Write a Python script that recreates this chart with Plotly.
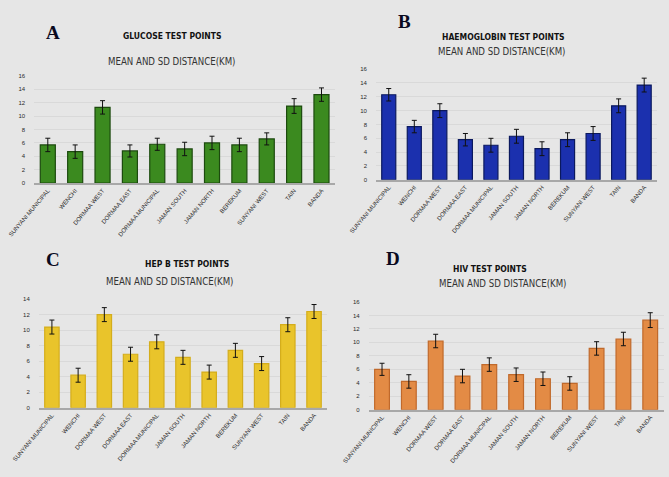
import plotly.graph_objects as go
from plotly.subplots import make_subplots

# districts (same order in all four panels)
districts = [
    "SUNYANI MUNICIPAL", "WENCHI", "DORMAA WEST", "DORMAA EAST",
    "DORMAA MUNICIPAL", "JAMAN SOUTH", "JAMAN NORTH", "BEREKUM",
    "SUNYANI WEST", "TAIN", "BANDA",
]

# mean distance (km) and SD
glucose_mean = [5.7, 4.7, 11.3, 4.8, 5.8, 5.1, 6.0, 5.7, 6.6, 11.5, 13.2]
glucose_sd = [1.0, 1.0, 1.0, 0.9, 0.9, 1.0, 1.0, 1.0, 0.9, 1.1, 1.0]

haemo_mean = [12.3, 7.7, 10.0, 5.8, 5.0, 6.3, 4.5, 5.8, 6.7, 10.7, 13.7]
haemo_sd = [0.9, 0.9, 1.0, 0.9, 1.0, 1.0, 1.0, 1.0, 1.0, 1.0, 1.0]

hepb_mean = [10.4, 4.2, 12.0, 6.9, 8.5, 6.5, 4.6, 7.4, 5.7, 10.7, 12.4]
hepb_sd = [0.9, 0.9, 0.9, 0.9, 0.9, 0.9, 0.9, 0.9, 0.9, 0.9, 0.9]

hiv_mean = [6.0, 4.2, 10.2, 5.0, 6.7, 5.2, 4.6, 3.9, 9.1, 10.5, 13.3]
hiv_sd = [0.9, 1.0, 1.0, 1.0, 1.0, 1.0, 1.0, 1.0, 1.0, 1.0, 1.1]

bg = "#e6e6e6"
narrow = "Liberation Sans Narrow, DejaVu Sans Condensed, Liberation Sans, sans-serif"

fig = make_subplots(rows=2, cols=2)

panels = [
    (1, 1, glucose_mean, glucose_sd, "#3b8a1f", "#1c4a0e"),
    (1, 2, haemo_mean, haemo_sd, "#1b30ae", "#0b195e"),
    (2, 1, hepb_mean, hepb_sd, "#e9c42b", "#d4ad1c"),
    (2, 2, hiv_mean, hiv_sd, "#e38b45", "#c0692b"),
]

for r, c, mean, sd, fill, edge in panels:
    fig.add_trace(
        go.Bar(
            x=districts,
            y=mean,
            marker=dict(color=fill, line=dict(color=edge, width=1.2)),
            error_y=dict(type="data", array=sd, color="#111111", thickness=1, width=2.5),
            showlegend=False,
        ),
        row=r,
        col=c,
    )

fig.update_layout(
    width=669,
    height=477,
    margin=dict(l=0, r=0, t=0, b=0),
    paper_bgcolor=bg,
    plot_bgcolor=bg,
    bargap=0.45,
    font=dict(family="Liberation Sans, Arial, sans-serif", color="#404040"),
    xaxis=dict(domain=[0.051, 0.501], anchor="y"),
    yaxis=dict(domain=[0.616, 0.841], range=[0, 16], dtick=2, anchor="x"),
    xaxis2=dict(domain=[0.562, 0.982], anchor="y2"),
    yaxis2=dict(domain=[0.623, 0.855], range=[0, 16], dtick=2, anchor="x2"),
    xaxis3=dict(domain=[0.058, 0.489], anchor="y3"),
    yaxis3=dict(domain=[0.145, 0.373], range=[0, 14], dtick=2, anchor="x3"),
    xaxis4=dict(domain=[0.551, 0.992], anchor="y4"),
    yaxis4=dict(domain=[0.141, 0.367], range=[0, 16], dtick=2, anchor="x4"),
)

fig.update_xaxes(
    automargin=False,
    tickangle=-50,
    tickfont=dict(size=6, color="#2a2a2a"),
    showline=True,
    linecolor="#a8a8a8",
    linewidth=1.5,
    showgrid=False,
    ticks="",
)
fig.update_yaxes(
    automargin=False,
    tickfont=dict(size=6, color="#2a2a2a"),
    showgrid=True,
    gridcolor="#d9d9d9",
    gridwidth=1,
    zeroline=False,
    showline=False,
    ticklabelstandoff=8,
)

titles = [
    # letter x, y, title text, title x, y, subtitle x, y
    ("A", 0.079, 0.931, "GLUCOSE TEST POINTS", 0.257, 0.924, 0.257, 0.872),
    ("B", 0.605, 0.954, "HAEMOGLOBIN TEST POINTS", 0.752, 0.922, 0.750, 0.891),
    ("C", 0.079, 0.457, "HEP B TEST POINTS", 0.280, 0.446, 0.254, 0.409),
    ("D", 0.587, 0.459, "HIV TEST POINTS", 0.732, 0.436, 0.752, 0.405),
]
for letter, lx, ly, title, tx, ty, sx, sy in titles:
    fig.add_annotation(
        text="<b>" + letter + "</b>", x=lx, y=ly, xref="paper", yref="paper",
        xanchor="center", yanchor="middle", showarrow=False,
        font=dict(family="Liberation Serif, DejaVu Serif, serif", size=19, color="#0a0a1e"),
    )
    fig.add_annotation(
        text="<b>" + title + "</b>", x=tx, y=ty, xref="paper", yref="paper",
        xanchor="center", yanchor="middle", showarrow=False,
        font=dict(family=narrow, size=8.5, color="#111111"),
    )
    fig.add_annotation(
        text="MEAN AND SD DISTANCE(KM)", x=sx, y=sy, xref="paper", yref="paper",
        xanchor="center", yanchor="middle", showarrow=False,
        font=dict(family=narrow, size=9.6, color="#333333"),
    )

# drop the default page margin so the figure sits at the window's corner
fig.write_html(
    "out.html",
    config={"displayModeBar": False},
    post_script="document.body.style.margin='0';",
)
